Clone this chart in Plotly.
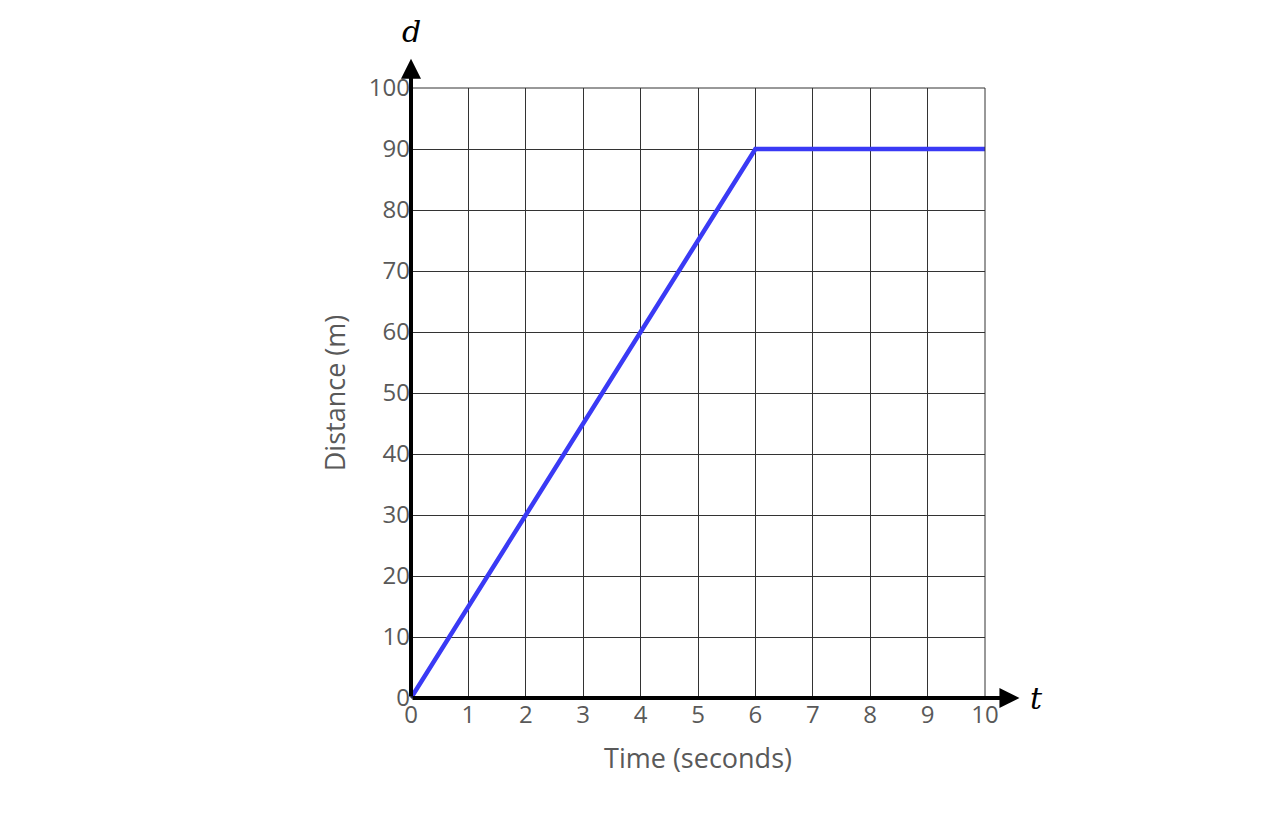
import plotly.graph_objects as go

time_s = [0, 6, 10]
distance_m = [0, 90, 90]
x_ticks = list(range(0, 11))
y_ticks = list(range(0, 101, 10))

fig = go.Figure()
fig.add_trace(go.Scatter(x=time_s, y=distance_m, mode="lines",
                         line=dict(color="#3a3af5", width=4.5), showlegend=False))

tickfont = dict(family="Open Sans", size=24, color="#595959")
fig.update_xaxes(range=[0, 10], tickvals=x_ticks, showgrid=True, gridcolor="#333333", gridwidth=1,
                 zeroline=False, showline=False, ticks="", tickfont=tickfont,
                 title=dict(text="Time (seconds)", font=dict(family="Open Sans", size=27, color="#595959"), standoff=20))
fig.update_yaxes(range=[0, 100], tickvals=y_ticks, showgrid=True, gridcolor="#333333", gridwidth=1,
                 zeroline=False, showline=False, ticks="", tickfont=tickfont,
                 title=dict(text="Distance (m)", font=dict(family="Open Sans", size=27, color="#595959"), standoff=15))

fig.add_shape(type="rect", xref="paper", yref="paper", x0=0, y0=0, x1=1, y1=1,
              line=dict(color="#333333", width=1))

fig.add_annotation(xref="x domain", yref="y domain", axref="x domain", ayref="y domain",
                   x=1.06, y=0, ax=0, ay=0, showarrow=True, arrowhead=2, arrowsize=1, arrowwidth=4,
                   arrowcolor="black", text="")
fig.add_annotation(xref="x domain", yref="y domain", axref="x domain", ayref="y domain",
                   x=0, y=1.048, ax=0, ay=0, showarrow=True, arrowhead=2, arrowsize=1, arrowwidth=4,
                   arrowcolor="black", text="")
fig.add_annotation(xref="paper", yref="paper", x=1.075, y=0, text="<i>t</i>", showarrow=False,
                   xanchor="left", yanchor="middle", font=dict(family="DejaVu Serif", size=30, color="black"))
fig.add_annotation(xref="paper", yref="paper", x=0, y=1.06, text="<i>d</i>", showarrow=False,
                   xanchor="center", yanchor="bottom", font=dict(family="DejaVu Serif", size=30, color="black"))

fig.update_layout(width=1280, height=820, plot_bgcolor="white", paper_bgcolor="white",
                  margin=dict(l=403, r=303, t=80, b=130))
fig.write_html("out.html")
